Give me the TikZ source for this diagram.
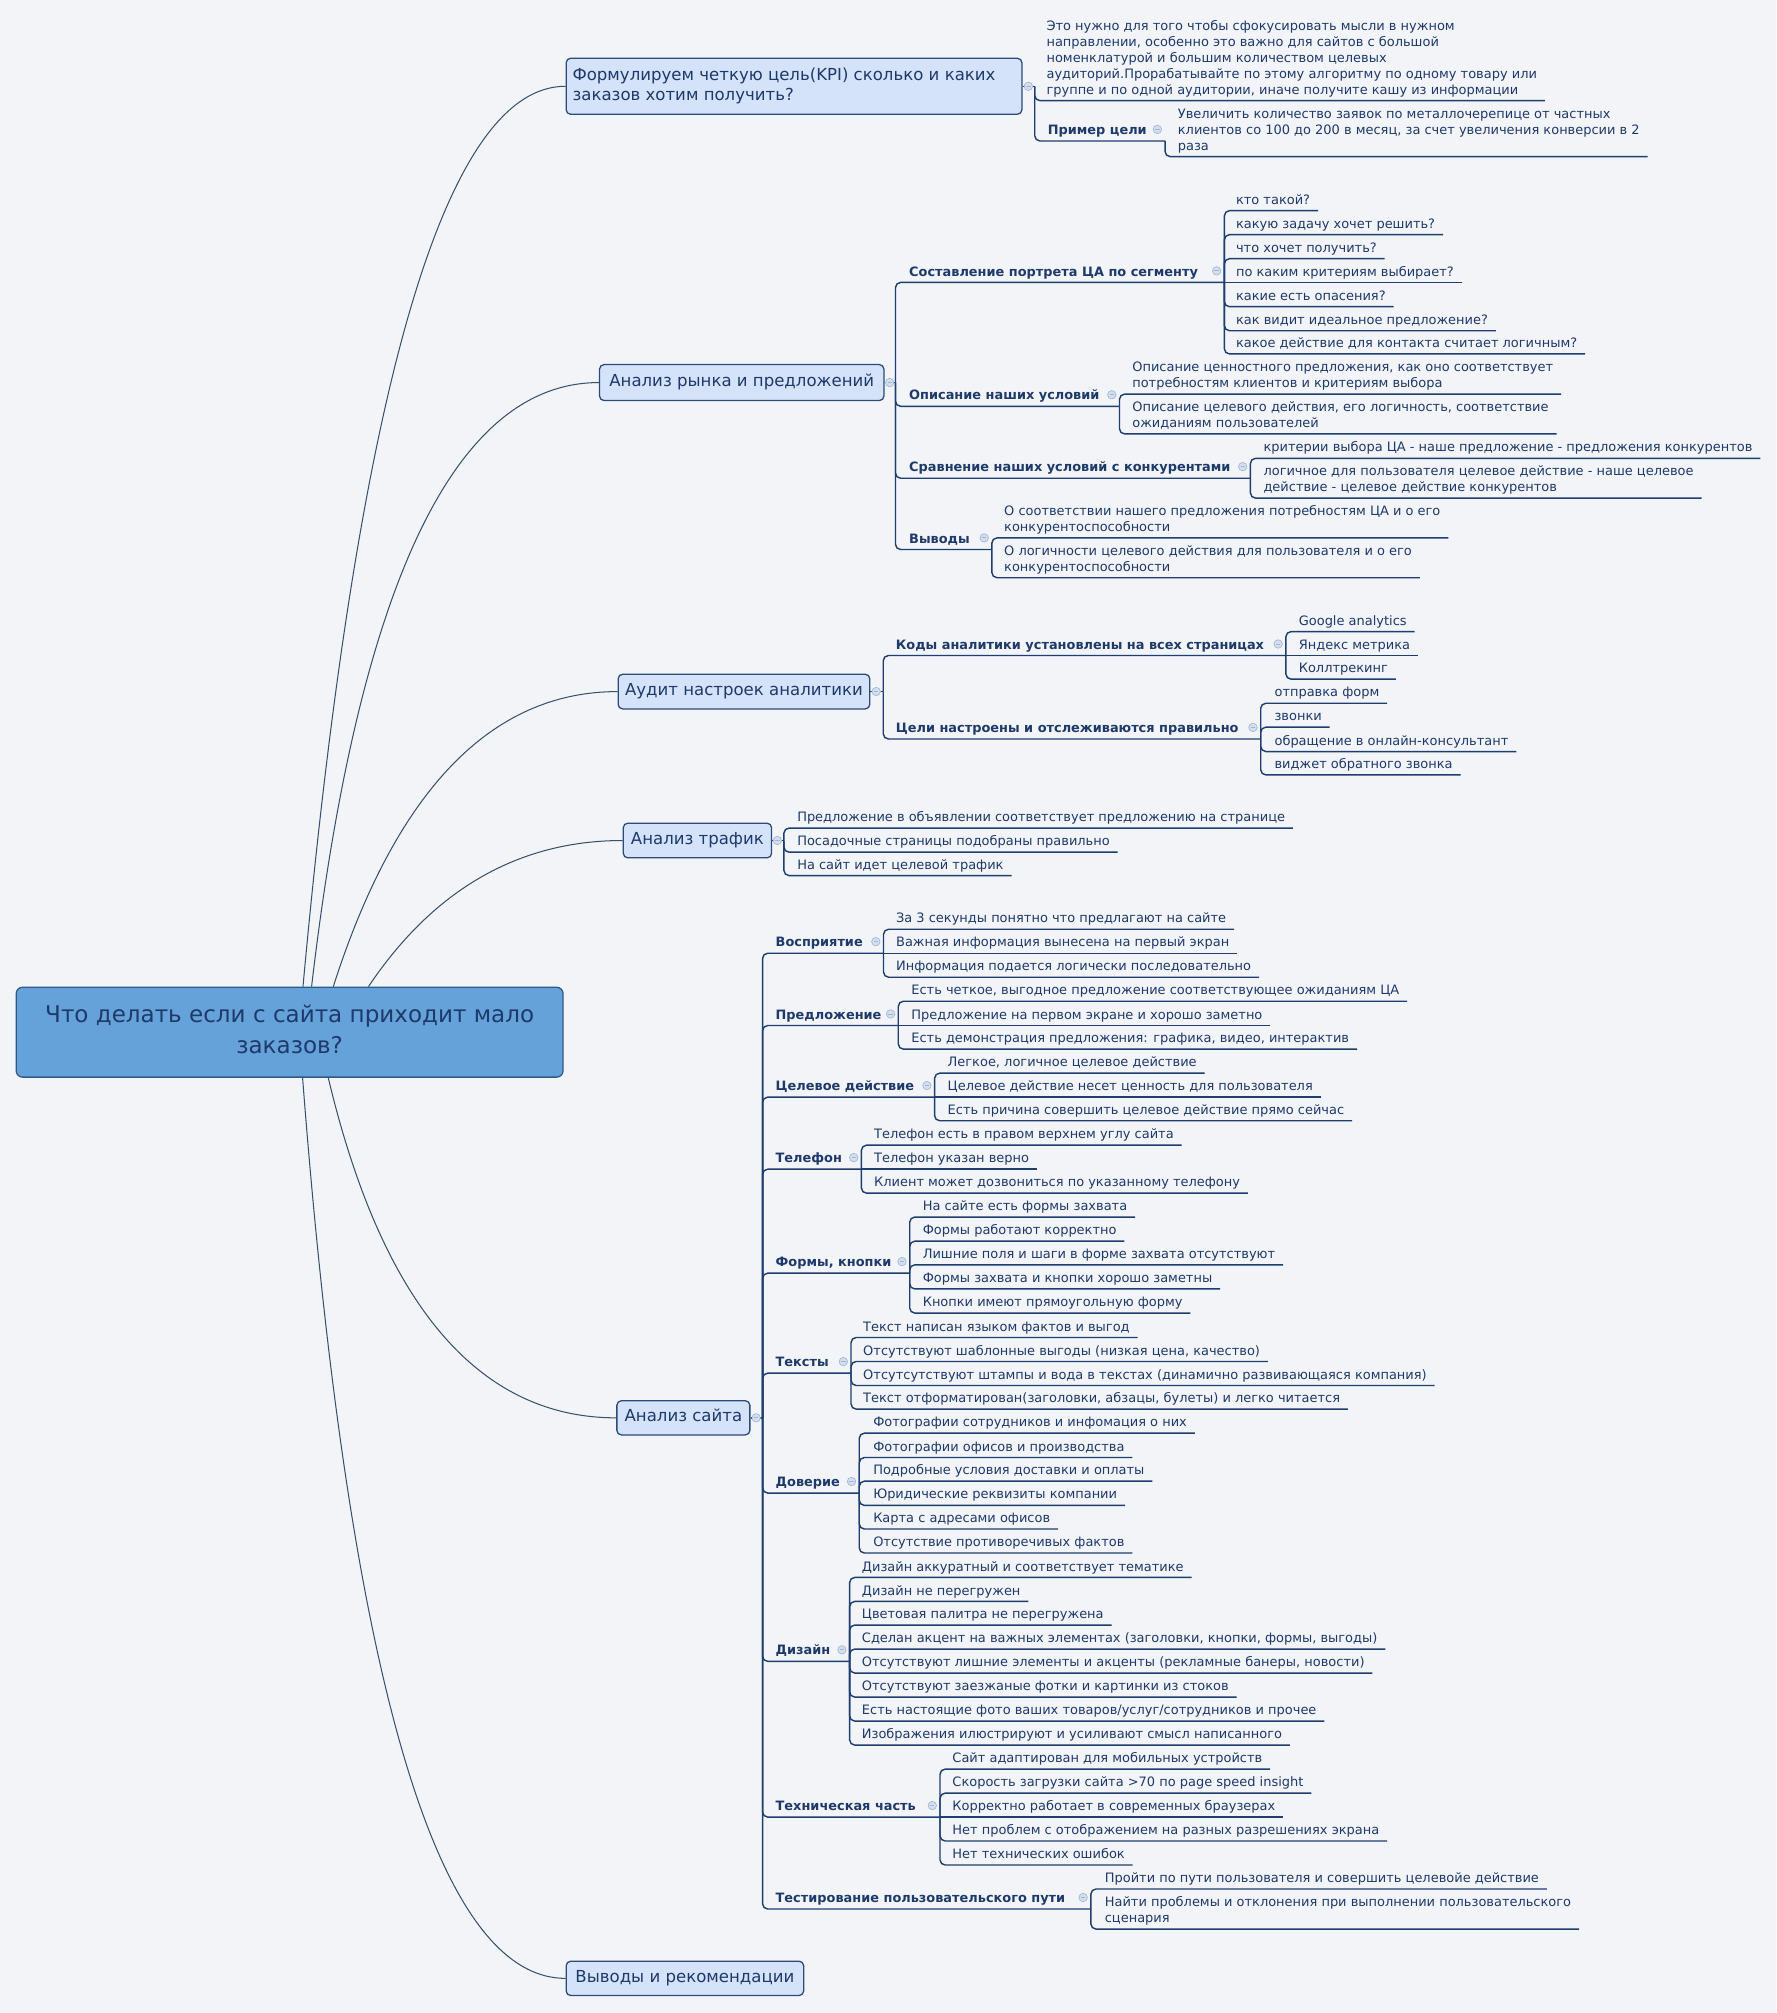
\documentclass[tikz,border=0pt]{standalone}
\usepackage{fontspec}
\setmainfont{DejaVu Sans}
\definecolor{bg}{HTML}{F2F4F8}
\definecolor{txt}{HTML}{1E3A6A}
\definecolor{linec}{HTML}{1D3E6E}
\definecolor{curvec}{HTML}{36506D}
\definecolor{topicfill}{HTML}{D4E2FA}
\definecolor{topicdraw}{HTML}{2B4B78}
\definecolor{rootfill}{HTML}{66A2DA}
\definecolor{rootdraw}{HTML}{2F5A8A}
\definecolor{circf}{HTML}{D3DEEE}
\definecolor{circd}{HTML}{A2B6D2}
\newcommand\ml[1]{\begin{tabular}[b]{@{}l@{}}#1\end{tabular}}
\tikzset{
  leaf/.style={anchor=base west, inner sep=0pt, text=txt, font=\fontsize{10.1}{12.46}\selectfont},
  subt/.style={anchor=base west, inner sep=0pt, text=txt, font=\fontsize{10.05}{12.46}\selectfont\bfseries},
  ul/.style={draw=linec, line width=1.1pt, rounded corners=4pt},
  topic/.style={draw=topicdraw, fill=topicfill, rounded corners=3.5pt, line width=1pt, text=txt,
     font=\fontsize{12.9}{15.6}\selectfont, inner sep=0pt, anchor=west},
  rootn/.style={draw=rootdraw, fill=rootfill, rounded corners=5pt, line width=1pt, text=txt,
     font=\fontsize{17.95}{24}\selectfont, inner sep=0pt},
  curve/.style={draw=curvec, line width=0.8pt},
  collc/.style={draw=circd, fill=circf, line width=0.5pt},
  collm/.style={draw=circd, line width=0.7pt}
}
% collapse circle
\newcommand\cll[2]{\draw[collc] (#1,#2) circle (3.3pt); \draw[collm] (#1-1.7,#2) -- (#1+1.7,#2);}
% leaf with corner: name, vx, py, tx, uly, text
\newcommand\lfc[6]{\node[leaf] (#1) at (#4,#5-5) {\ml{#6}};
  \draw[ul] (#2,#3) -- (#2,#5) -- (#1.base east |- 0,#5) -- ++(6,0);}
% straight leaf: name, vx, tx, uly, text
\newcommand\lfst[5]{\node[leaf] (#1) at (#3,#4-5) {\ml{#5}};
  \draw[ul] (#2,#4) -- (#1.base east |- 0,#4) -- ++(6,0);}
% bold subtopic: name, vx, py, tx, uly, ownvx, text
\newcommand\sbt[7]{\node[subt] (#1) at (#4,#5-5) {#7};
  \draw[ul] (#2,#3) -- (#2,#5) -- (#6,#5); \cll{#6-6}{#5-9}}
\begin{document}
\begin{tikzpicture}[x=1pt,y=-1pt]
\fill[bg] (0,0) rectangle (1383.4,1568);
\useasboundingbox (0,0) rectangle (1383.4,1568);

% root and topics
\node[rootn, minimum width=426pt, minimum height=70pt] (root) at (225.6,804)
  {\begin{tabular}{@{}c@{}}Что делать если с сайта приходит мало\\заказов?\end{tabular}};
\node[topic, minimum width=355pt, minimum height=43.6pt] (t1) at (440.5,67.2)
  {\makebox[345pt][l]{\raisebox{-1.5pt}{\ml{Формулируем четкую цель(KPI) сколько и каких\\заказов хотим получить?}}}};
\node[topic, minimum width=221.5pt, minimum height=28pt] (t2) at (466.5,298) {\ml{Анализ рынка и предложений}};
\node[topic, minimum width=196pt, minimum height=27pt] (t3) at (481,538.7) {\ml{Аудит настроек аналитики}};
\node[topic, minimum width=115.5pt, minimum height=27pt] (t4) at (485,654.7) {\ml{Анализ трафик}};
\node[topic, minimum width=103.6pt, minimum height=26.6pt] (t5) at (480,1104.4) {\ml{Анализ сайта}};
\node[topic, minimum width=185pt, minimum height=26.7pt] (t6) at (440.5,1541) {\ml{Выводы и рекомендации}};

% curves from root
\draw[curve] (root.north -| 236,0) .. controls (278.7,301.3) and (346.7,67.2) .. (t1.west);
\draw[curve] (root.north -| 242.7,0) .. controls (279.3,455.6) and (354,298) .. (t2.west);
\draw[curve] (root.north -| 259.6,0) .. controls (308.4,616.1) and (382.4,538.7) .. (t3.west);
\draw[curve] (root.north -| 287,0) .. controls (337.4,693.3) and (403.6,654.7) .. (t4.west);
\draw[curve] (root.south -| 255.7,0) .. controls (297.6,1015.7) and (372.4,1104.4) .. (t5.west);
\draw[curve] (root.south -| 235.7,0) .. controls (271.5,1306) and (339.8,1541) .. (t6.west);

% ---- topic 1
\draw[ul] (t1.east) -- (806,67.2); \cll{801}{67.2}
\lfc{n11}{806}{67.2}{815}{78.4}{Это нужно для того чтобы сфокусировать мысли в нужном\\направлении, особенно это важно для сайтов с большой\\номенклатурой и большим количеством целевых\\аудиторий.Прорабатывайте по этому алгоритму по одному товару или\\группе и по одной аудитории, иначе получите кашу из информации}
\sbt{s11}{806}{67.2}{816}{109.8}{907.5}{Пример цели}
\lfc{n12}{907.5}{109.8}{917.3}{122}{Увеличить количество заявок по металлочерепице от частных\\клиентов со 100 до 200 в месяц, за счет увеличения конверсии в 2\\раза}

% ---- topic 2
\draw[ul] (t2.east) -- (697.5,298); \cll{693}{298}
\sbt{s21}{697.5}{298}{708}{220}{953.7}{Составление портрета ЦА по сегменту}
\sbt{s22}{697.5}{298}{708}{316.5}{872}{Описание наших условий}
\sbt{s23}{697.5}{298}{708}{372.5}{974}{Сравнение наших условий с конкурентами}
\sbt{s24}{697.5}{298}{708}{428}{772.6}{Выводы}
\lfc{l211}{953.7}{220}{962.6}{164.1}{кто такой?}
\lfc{l212}{953.7}{220}{962.6}{182.8}{какую задачу хочет решить?}
\lfc{l213}{953.7}{220}{962.6}{201.5}{что хочет получить?}
\lfst{l214}{953.7}{962.6}{220}{по каким критериям выбирает?}
\lfc{l215}{953.7}{220}{962.6}{238.9}{какие есть опасения?}
\lfc{l216}{953.7}{220}{962.6}{257.6}{как видит идеальное предложение?}
\lfc{l217}{953.7}{220}{962.6}{275.7}{какое действие для контакта считает логичным?}
\lfc{l221}{872}{316.5}{881.8}{307}{Описание ценностного предложения, как оно соответствует\\потребностям клиентов и критериям выбора}
\lfc{l222}{872}{316.5}{881.8}{338}{Описание целевого действия, его логичность, соответствие\\ожиданиям пользователей}
\lfc{l231}{974}{372.5}{984}{357}{критерии выбора ЦА - наше предложение - предложения конкурентов}
\lfc{l232}{974}{372.5}{984}{388}{логичное для пользователя целевое действие - наше целевое\\действие - целевое действие конкурентов}
\lfc{l241}{772.6}{428}{782}{419}{О соответствии нашего предложения потребностям ЦА и о его\\конкурентоспособности}
\lfc{l242}{772.6}{428}{782}{450}{О логичности целевого действия для пользователя и о его\\конкурентоспособности}

% ---- topic 3
\draw[ul] (t3.east) -- (688,538.7); \cll{682.5}{538.7}
\sbt{s31}{688}{538.7}{697.6}{510.6}{1001.6}{Коды аналитики установлены на всех страницах}
\sbt{s32}{688}{538.7}{697.6}{575.6}{982}{Цели настроены и отслеживаются правильно}
\lfc{l311}{1001.6}{510.6}{1011.5}{492}{Google analytics}
\lfst{l312}{1001.6}{1011.5}{510.6}{Яндекс метрика}
\lfc{l313}{1001.6}{510.6}{1011.5}{529}{Коллтрекинг}
\lfc{l321}{982}{575.6}{992.6}{547.8}{отправка форм}
\lfc{l322}{982}{575.6}{992.6}{566.4}{звонки}
\lfc{l323}{982}{575.6}{992.6}{585.4}{обращение в онлайн-консультант}
\lfc{l324}{982}{575.6}{992.6}{603.6}{виджет обратного звонка}

% ---- topic 4
\draw[ul] (t4.east) -- (610.6,654.7); \cll{605.5}{654.7}
\lfc{l41}{610.6}{654.7}{620.8}{645}{Предложение в объявлении соответствует предложению на странице}
\lfc{l42}{610.6}{654.7}{620.8}{663.8}{Посадочные страницы подобраны правильно}
\lfc{l43}{610.6}{654.7}{620.8}{682}{На сайт идет целевой трафик}

% ---- topic 5
\draw[ul] (t5.east) -- (594,1104.4); \cll{589}{1104.4}
\sbt{s51}{594}{1104.4}{604}{742.5}{688.2}{Восприятие}
\sbt{s52}{594}{1104.4}{604}{798.8}{699.7}{Предложение}
\sbt{s53}{594}{1104.4}{604}{854.6}{728}{Целевое действие}
\sbt{s54}{594}{1104.4}{604}{910.7}{671}{Телефон}
\sbt{s55}{594}{1104.4}{604}{991.7}{708.6}{Формы, кнопки}
\sbt{s56}{594}{1104.4}{604}{1069.6}{662.9}{Тексты}
\sbt{s57}{594}{1104.4}{604}{1163}{669.3}{Доверие}
\sbt{s58}{594}{1104.4}{604}{1294.1}{661.8}{Дизайн}
\sbt{s59}{594}{1104.4}{604}{1415.4}{732.2}{Техническая часть}
\sbt{s5a}{594}{1104.4}{604}{1487}{849.7}{Тестирование пользовательского пути}

\lfc{l511}{688.2}{742.5}{697.8}{723.8}{За 3 секунды понятно что предлагают на сайте}
\lfst{l512}{688.2}{697.8}{742.5}{Важная информация вынесена на первый экран}
\lfc{l513}{688.2}{742.5}{697.8}{761.2}{Информация подается логически последовательно}

\lfc{l521}{699.7}{798.8}{709.7}{779.9}{Есть четкое, выгодное предложение соответствующее ожиданиям ЦА}
\lfst{l522}{699.7}{709.7}{798.8}{Предложение на первом экране и хорошо заметно}
\lfc{l523}{699.7}{798.8}{709.7}{817.2}{Есть демонстрация предложения: графика, видео, интерактив}

\lfc{l531}{728}{854.6}{738}{835.9}{Легкое, логичное целевое действие}
\lfst{l532}{728}{738}{854.6}{Целевое действие несет ценность для пользователя}
\lfc{l533}{728}{854.6}{738}{873}{Есть причина совершить целевое действие прямо сейчас}

\lfc{l541}{671}{910.7}{680.7}{892}{Телефон есть в правом верхнем углу сайта}
\lfst{l542}{671}{680.7}{910.7}{Телефон указан верно}
\lfc{l543}{671}{910.7}{680.7}{929.4}{Клиент может дозвониться по указанному телефону}

\lfc{l551}{708.6}{991.7}{718.6}{948}{На сайте есть формы захвата}
\lfc{l552}{708.6}{991.7}{718.6}{966.8}{Формы работают корректно}
\lfc{l553}{708.6}{991.7}{718.6}{985.2}{Лишние поля и шаги в форме захвата отсутствуют}
\lfc{l554}{708.6}{991.7}{718.6}{1004}{Формы захвата и кнопки хорошо заметны}
\lfc{l555}{708.6}{991.7}{718.6}{1022.8}{Кнопки имеют прямоугольную форму}

\lfc{l561}{662.9}{1069.6}{672.2}{1041.8}{Текст написан языком фактов и выгод}
\lfc{l562}{662.9}{1069.6}{672.2}{1060.5}{Отсутствуют шаблонные выгоды (низкая цена, качество)}
\lfc{l563}{662.9}{1069.6}{672.2}{1079.2}{Отсутсутствуют штампы и вода в текстах (динамично развивающаяся компания)}
\lfc{l564}{662.9}{1069.6}{672.2}{1097.6}{Текст отформатирован(заголовки, абзацы, булеты) и легко читается}

\lfc{l571}{669.3}{1163}{680}{1116.3}{Фотографии сотрудников и инфомация о них}
\lfc{l572}{669.3}{1163}{680}{1135.3}{Фотографии офисов и производства}
\lfc{l573}{669.3}{1163}{680}{1153.7}{Подробные условия доставки и оплаты}
\lfc{l574}{669.3}{1163}{680}{1172.6}{Юридические реквизиты компании}
\lfc{l575}{669.3}{1163}{680}{1191}{Карта с адресами офисов}
\lfc{l576}{669.3}{1163}{680}{1209.7}{Отсутствие противоречивых фактов}

\lfc{l581}{661.8}{1294.1}{671.2}{1228.7}{Дизайн аккуратный и соответствует тематике}
\lfc{l582}{661.8}{1294.1}{671.2}{1247.4}{Дизайн не перегружен}
\lfc{l583}{661.8}{1294.1}{671.2}{1265.8}{Цветовая палитра не перегружена}
\lfc{l584}{661.8}{1294.1}{671.2}{1284.5}{Сделан акцент на важных элементах (заголовки, кнопки, формы, выгоды)}
\lfc{l585}{661.8}{1294.1}{671.2}{1303.2}{Отсутствуют лишние элементы и акценты (рекламные банеры, новости)}
\lfc{l586}{661.8}{1294.1}{671.2}{1321.9}{Отсутствуют заезжаные фотки и картинки из стоков}
\lfc{l587}{661.8}{1294.1}{671.2}{1340.6}{Есть настоящие фото ваших товаров/услуг/сотрудников и прочее}
\lfc{l588}{661.8}{1294.1}{671.2}{1359.3}{Изображения илюстрируют и усиливают смысл написанного}

\lfc{l591}{732.2}{1415.4}{741.7}{1378}{Сайт адаптирован для мобильных устройств}
\lfc{l592}{732.2}{1415.4}{741.7}{1396.7}{Скорость загрузки сайта >70 по page speed insight}
\lfst{l593}{732.2}{741.7}{1415.4}{Корректно работает в современных браузерах}
\lfc{l594}{732.2}{1415.4}{741.7}{1434}{Нет проблем с отображением на разных разрешениях экрана}
\lfc{l595}{732.2}{1415.4}{741.7}{1452.7}{Нет технических ошибок}

\lfc{l5a1}{849.7}{1487}{860.4}{1471.4}{Пройти по пути пользователя и совершить целевойе действие}
\lfc{l5a2}{849.7}{1487}{860.4}{1502.6}{Найти проблемы и отклонения при выполнении пользовательского\\сценария}
\end{tikzpicture}
\end{document}
